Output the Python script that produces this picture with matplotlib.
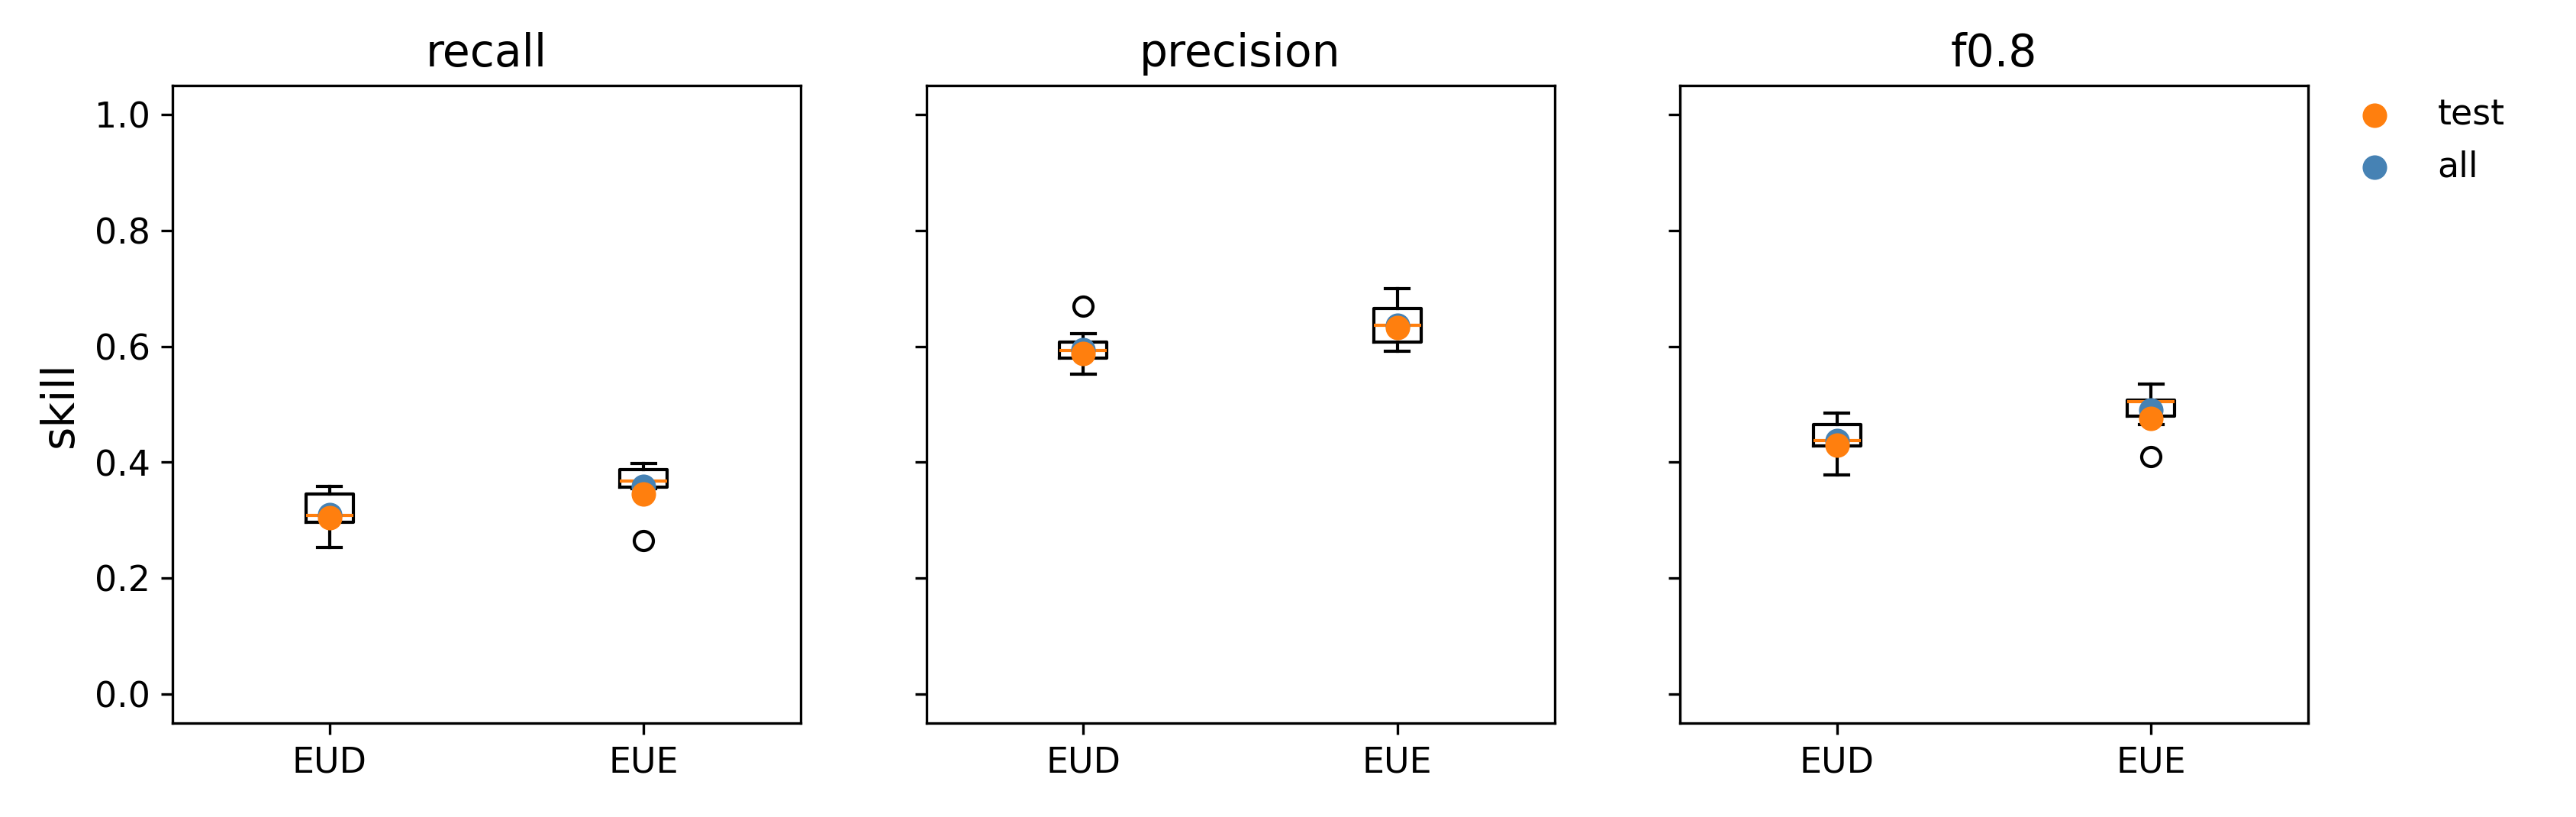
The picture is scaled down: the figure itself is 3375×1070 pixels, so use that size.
import matplotlib
matplotlib.use("Agg")
import matplotlib.pyplot as plt

metrics = ["recall", "precision", "f0.8"]
regions = ["EUD", "EUE"]

# box stats per metric: [EUD, EUE] as (whislo, q1, med, q3, whishi, fliers)
box_stats = {
    "recall": [(0.253, 0.297, 0.308, 0.345, 0.358, []),
               (0.355, 0.357, 0.368, 0.388, 0.398, [0.265])],
    "precision": [(0.552, 0.580, 0.593, 0.608, 0.622, [0.670]),
                  (0.592, 0.607, 0.636, 0.665, 0.700, [])],
    "f0.8": [(0.378, 0.428, 0.437, 0.465, 0.485, []),
             (0.465, 0.480, 0.505, 0.508, 0.535, [0.410])],
}
all_skill = {"recall": [0.310, 0.358], "precision": [0.595, 0.637], "f0.8": [0.437, 0.490]}
test_skill = {"recall": [0.304, 0.345], "precision": [0.588, 0.632], "f0.8": [0.430, 0.476]}

fig, axes = plt.subplots(1, 3, figsize=(11.25, 3.567), sharey=True)
fig.subplots_adjust(left=0.067, right=0.896, bottom=0.115, top=0.895, wspace=0.2)

for ax, m in zip(axes, metrics):
    stats = []
    for r, (lo, q1, med, q3, hi, fl) in zip(regions, box_stats[m]):
        stats.append(dict(label=r, whislo=lo, q1=q1, med=med, q3=q3, whishi=hi, fliers=fl))
    ax.bxp(stats, positions=[1, 2], widths=0.15, showfliers=True)
    ax.scatter([1, 2], all_skill[m], color="steelblue", s=45, zorder=3, label="all")
    ax.scatter([1, 2], test_skill[m], color="tab:orange", s=45, zorder=4, label="test")
    ax.set_title(m, fontsize=14)
    ax.set_xlim(0.5, 2.5)
    ax.set_ylim(-0.05, 1.05)
    ax.tick_params(labelsize=11)

axes[0].set_ylabel("skill", fontsize=14)
handles, labels = axes[2].get_legend_handles_labels()
axes[2].legend(handles[::-1], labels[::-1], loc="upper left", bbox_to_anchor=(1.0, 1.03),
               frameon=False, fontsize=11)

fig.savefig("out.png", dpi=300)
